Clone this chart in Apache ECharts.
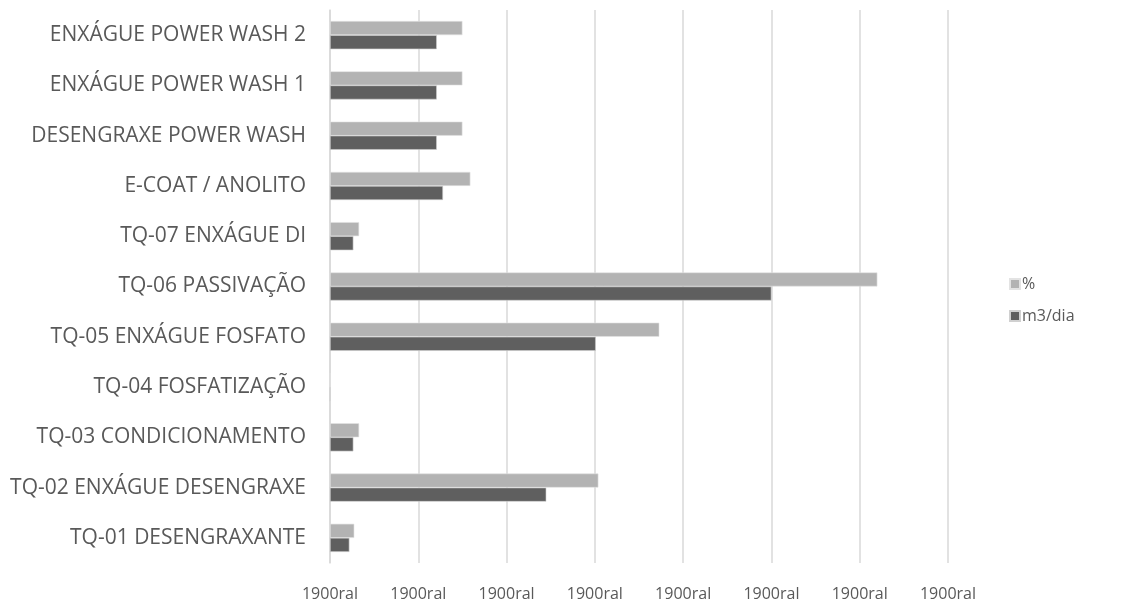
<!DOCTYPE html>
<html>
<head>
<meta charset="utf-8">
<script src="https://cdn.jsdelivr.net/npm/echarts@6/dist/echarts.min.js"></script>
<style>
  html, body { margin: 0; padding: 0; background: #fff; }
  #chart { width: 1123px; height: 606px; }
</style>
</head>
<body>
<div id="chart"></div>
<script>
// Process tanks, bottom to top
const categories = [
  'TQ-01 DESENGRAXANTE',
  'TQ-02 ENXÁGUE DESENGRAXE',
  'TQ-03 CONDICIONAMENTO',
  'TQ-04 FOSFATIZAÇÃO',
  'TQ-05 ENXÁGUE FOSFATO',
  'TQ-06 PASSIVAÇÃO',
  'TQ-07 ENXÁGUE DI',
  'E-COAT / ANOLITO',
  'DESENGRAXE POWER WASH',
  'ENXÁGUE POWER WASH 1',
  'ENXÁGUE POWER WASH 2'
];
const percentValues = [0.275, 3.04, 0.33, 0, 3.73, 6.2, 0.33, 1.59, 1.50, 1.50, 1.50];
const m3DiaValues   = [0.22, 2.45, 0.265, 0, 3.01, 5.0, 0.265, 1.28, 1.21, 1.21, 1.21];
const tickLabel = '1900ral';

const FONT = 'Open Sans';
const TEXT = '#595959';

const chart = echarts.init(document.getElementById('chart'), null, { renderer: 'canvas' });
chart.setOption({
  animation: false,
  textStyle: { fontFamily: FONT, color: TEXT },
  grid: { left: 330, right: 175, top: 10, bottom: 43, containLabel: false },
  legend: {
    orient: 'vertical',
    left: 1004,
    top: 271,
    itemWidth: 10,
    itemHeight: 10,
    itemGap: 16,
    icon: 'rect',
    data: ['%', 'm3/dia'],
    textStyle: { fontFamily: FONT, fontSize: 16, color: TEXT, padding: [0, 0, 0, -3] }
  },
  xAxis: {
    type: 'value',
    min: 0,
    max: 7,
    interval: 1,
    axisLine: { show: false },
    axisTick: { show: false },
    splitLine: { show: true, lineStyle: { color: '#d9d9d9', width: 1.5 } },
    axisLabel: {
      formatter: () => tickLabel,
      fontFamily: FONT, fontSize: 16, color: TEXT, margin: 23
    }
  },
  yAxis: {
    type: 'category',
    data: categories,
    axisLine: { show: true, lineStyle: { color: '#d9d9d9', width: 1.5 } },
    axisTick: { show: false },
    axisLabel: { fontFamily: FONT, fontSize: 21, color: TEXT, margin: 24 }
  },
  series: [
    {
      name: '%',
      type: 'bar',
      data: percentValues,
      barGap: '0%',
      barCategoryGap: '44%',
      itemStyle: { color: '#b3b3b3', borderColor: '#e3e3e3', borderWidth: 0.6 }
    },
    {
      name: 'm3/dia',
      type: 'bar',
      data: m3DiaValues,
      barGap: '0%',
      barCategoryGap: '44%',
      itemStyle: { color: '#5f5f5f', borderColor: '#d0d0d0', borderWidth: 0.6 }
    }
  ]
});
</script>
</body>
</html>
